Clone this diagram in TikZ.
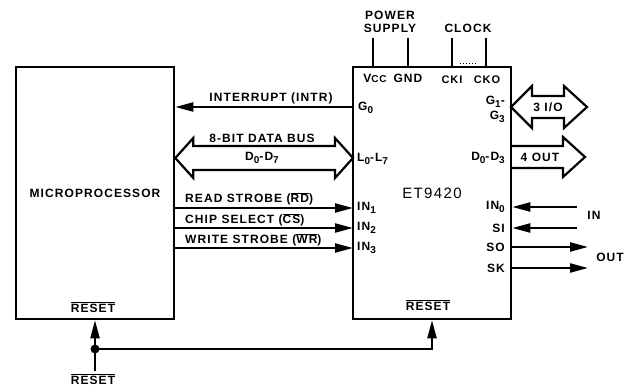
\documentclass[tikz,border=0pt]{standalone}
\usepackage{fontspec}
\setmainfont{Liberation Sans}[LetterSpace=9]
\usetikzlibrary{arrows.meta}
\usetikzlibrary{calc}

\newcommand\lo[1]{\raisebox{-0.45ex}{\fontsize{10}{11}\selectfont #1}}
\newcommand\ovl[1]{$\overline{\mbox{#1}}$}

\tikzset{
  box/.style={draw, line width=2.6pt, minimum width=158pt, minimum height=252pt, inner sep=0pt},
  lbl/.style={font=\fontsize{12}{14}\selectfont\bfseries, inner sep=0pt},
  wire/.style={line width=2.2pt},
  sig/.style={wire, -{Triangle[length=18pt,width=9pt]}},
  fat/.style={line width=2.2pt, fill=white, line join=miter},
}

\begin{document}
\begin{tikzpicture}[x=1pt,y=-1pt]
  \useasboundingbox (0,0) rectangle (630,387);

  % Blocks
  \node[box, lbl] (mp) at (95,193) {MICROPROCESSOR};
  \node[box, font=\fontsize{15}{17}\selectfont] (chip) at (432,193) {ET9420};

  % Power and clock pins
  \coordinate (vcc) at (373,38);
  \coordinate (gnd) at (408,38);
  \coordinate (cki) at (452,38);
  \coordinate (cko) at (486,38);
  \foreach \p in {vcc,gnd,cki,cko}
    \draw[line width=2.6pt] (\p) -- (\p |- chip.north);
  \draw[dotted, line width=1pt] ($(cki |- chip.north)+(8,-2)$) -- ($(cko |- chip.north)+(-8,-2)$);
  \node[lbl] (power) at (390,15) {POWER};
  \node[lbl] (supply) at (390,28) {SUPPLY};
  \node[lbl] (clock) at (468,28) {CLOCK};
  \node[lbl] (vcclbl) at (375,78) {V{\fontsize{10}{11}\selectfont CC}};
  \node[lbl] (gndlbl) at (408,78) {GND};
  \node[lbl, font=\fontsize{11}{12}\selectfont\bfseries] (ckilbl) at (452,80) {CKI};
  \node[lbl, font=\fontsize{11}{12}\selectfont\bfseries] (ckolbl) at (487,80) {CKO};

  % Interrupt
  \coordinate (g0) at (353,107);
  \draw[sig] (g0) -- (g0 -| mp.east);
  \node[lbl] (intr) at (271,98) {INTERRUPT (INTR)};
  \node[lbl, anchor=west] (g0lbl) at (358,108) {G\lo{0}};

  % Data bus
  \coordinate (bus) at (353,158);
  \coordinate (busL) at (bus -| mp.east);
  \draw[fat] (busL) -- ++(18,-20) -- ++(0,8) -- ($(bus)+(-18,-12)$) -- ++(0,-8) -- (bus)
    -- ++(-18,20) -- ++(0,-8) -- ($(busL)+(18,12)$) -- ++(0,8) -- cycle;
  \node[lbl] (buslbl) at (262,138) {8-BIT DATA BUS};
  \node[lbl] (busd) at (262,158) {D\lo{0}-D\lo{7}};
  \node[lbl, anchor=west] (llbl) at (357,159) {L\lo{0}-L\lo{7}};

  % Strobes
  \coordinate (in1) at (353,208);
  \coordinate (in2) at (353,228);
  \coordinate (in3) at (353,248);
  \foreach \p in {in1,in2,in3}
    \draw[sig] (\p -| mp.east) -- (\p);
  \node[lbl, anchor=west] (rd) at (185,199) {READ STROBE (\ovl{RD})};
  \node[lbl, anchor=west] (cs) at (185,220) {CHIP SELECT (\ovl{CS})};
  \node[lbl, anchor=west] (wr) at (185,240) {WRITE STROBE (\ovl{WR})};
  \node[lbl, anchor=west] (in1lbl) at (357,208) {IN\lo{1}};
  \node[lbl, anchor=west] (in2lbl) at (357,228) {IN\lo{2}};
  \node[lbl, anchor=west] (in3lbl) at (357,248) {IN\lo{3}};

  % G1-G3 port
  \coordinate (gio) at (511,107);
  \coordinate (gioR) at (587,107);
  \draw[fat] (gio) -- ++(21,-21) -- ++(0,10) -- ($(gioR)+(-23,-11)$) -- ++(0,-10) -- (gioR)
    -- ++(-23,21) -- ++(0,-10) -- ($(gio)+(21,11)$) -- ++(0,10) -- cycle;
  \node[lbl] (giolbl) at (548,107) {3 I/O};
  \node[lbl, anchor=east] (g1lbl) at (505,102) {G\lo{1}-};
  \node[lbl, anchor=east] (g3lbl) at (505,117) {G\lo{3}};

  % D0-D3 port
  \coordinate (dout) at (512,157);
  \coordinate (doutR) at (585,157);
  \draw[fat] ($(dout)+(0,-11)$) -- ($(doutR)+(-22,-11)$) -- ++(0,-9) -- (doutR)
    -- ++(-22,20) -- ++(0,-9) -- ($(dout)+(0,11)$);
  \node[lbl] (doutlbl) at (540,157) {4 OUT};
  \node[lbl, anchor=east] (dlbl) at (505,158) {D\lo{0}-D\lo{3}};

  % Serial lines
  \coordinate (in0) at (577,207);
  \coordinate (si) at (577,228);
  \coordinate (so) at (588,247);
  \coordinate (sk) at (588,268);
  \foreach \p in {in0,si}
    \draw[sig] (\p) -- (\p -| chip.east);
  \foreach \p in {so,sk}
    \draw[sig] (\p -| chip.east) -- (\p);
  \node[lbl, anchor=east] (in0lbl) at (505,207) {IN\lo{0}};
  \node[lbl, anchor=east] (silbl) at (505,228) {SI};
  \node[lbl, anchor=east] (solbl) at (505,247) {SO};
  \node[lbl, anchor=east] (sklbl) at (505,268) {SK};
  \node[lbl] (inlbl) at (594,215) {IN};
  \node[lbl] (outlbl) at (610,257) {OUT};

  % Reset
  \coordinate (rstin) at (95,371);
  \coordinate (jn) at (95,349);
  \draw[wire] (rstin) -- (jn);
  \draw[sig] (jn) -- (mp.south);
  \draw[sig] (jn) -| (chip.south);
  \fill (jn) circle (4.5);
  \node[lbl] (mprst) at (93,307) {\ovl{RESET}};
  \node[lbl] (chiprst) at (428,305) {\ovl{RESET}};
  \node[lbl] (rstlbl) at (93,379) {\ovl{RESET}};
\end{tikzpicture}
\end{document}
